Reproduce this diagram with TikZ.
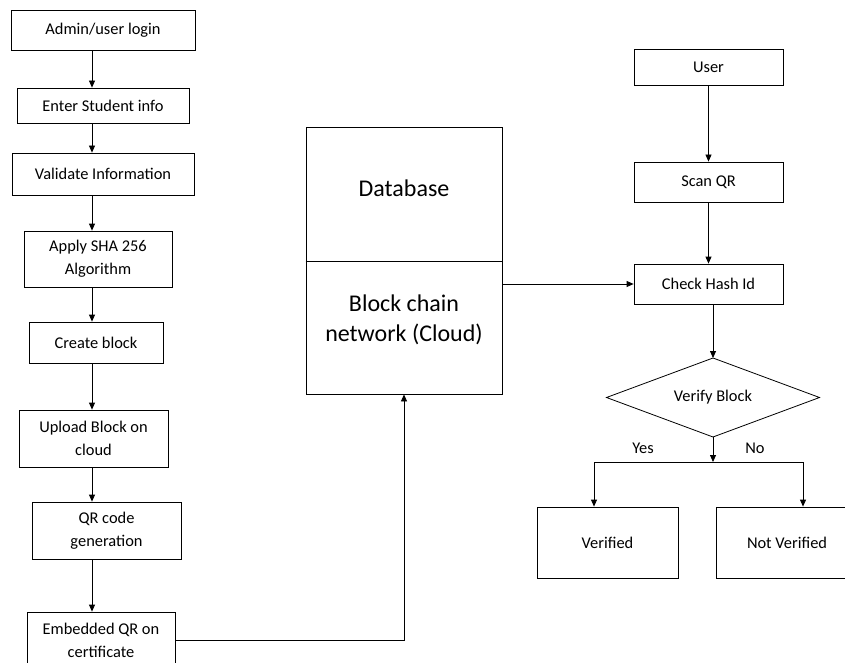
\documentclass[tikz,border=0pt]{standalone}
\usepackage{fontspec}
\setmainfont{Carlito}
\usetikzlibrary{shapes.geometric,arrows.meta}

\tikzset{
  box/.style={draw, align=center, inner sep=2pt},
  bigtext/.style={align=center, font=\fontsize{24}{30}\selectfont},
}

\begin{document}
\begin{tikzpicture}[x=1pt, y=-1pt, line width=0.8pt,
  >={Triangle[length=7pt,width=6pt]},
  font=\fontsize{16.4}{23}\selectfont]

\useasboundingbox (0,0) rectangle (845,663);

% registration side
\node[box, minimum width=184pt, minimum height=40pt] (login) at (103,30) {Admin/user login};
\node[box, minimum width=172pt, minimum height=35pt] (entry) at (103,105.5) {Enter Student info};
\node[box, minimum width=182pt, minimum height=42pt] (validate) at (103,174) {Validate Information};
\node[box, minimum width=148pt, minimum height=56pt] (sha) at (98,259) {Apply SHA 256\\Algorithm};
\node[box, minimum width=134pt, minimum height=41pt] (create) at (96,342.5) {Create block};
\node[box, minimum width=149pt, minimum height=57pt] (upload) at (93.5,438.5) {Upload Block on\\cloud};
\node[box, minimum width=149pt, minimum height=57pt] (qrgen) at (106.5,530.5) {QR code\\generation};
\node[box, minimum width=148pt, minimum height=56pt] (embed) at (101,640) {Embedded QR on\\certificate};

\coordinate (spine) at (92,0);
\foreach \a/\b in {login/entry, entry/validate, validate/sha, sha/create,
                   create/upload, upload/qrgen, qrgen/embed}{
  \draw[->] (\a.south -| spine) -- (\b.north -| spine);
}

% storage
\node[box, minimum width=196pt, minimum height=134pt] (db) at (404,194) {};
\node[box, minimum width=196pt, minimum height=133pt] (chain) at (404,327.5) {};
\draw[line width=1.6pt] (db.south west) -- (db.south east);
\node[bigtext] (dbtext) at (404,188) {Database};
\node[bigtext] (chaintext) at (404,320) {Block chain\\network (Cloud)};

\draw[->] (embed.east) -| (chain.south);

% verification side
\node[box, minimum width=149pt, minimum height=36pt] (user) at (708.5,67) {User};
\node[box, minimum width=149pt, minimum height=40pt] (scan) at (708.5,182) {Scan QR};
\node[box, minimum width=149pt, minimum height=40pt] (check) at (708.5,284) {Check Hash Id};
\node[draw, diamond, aspect=2.7, inner sep=0pt, outer sep=0pt,
      minimum width=213pt, minimum height=79pt] (verify) at (713,397.5) {Verify Block};
\node[box, minimum width=141pt, minimum height=71pt] (ok) at (607.5,542.5) {Verified};
\node[box, minimum width=142pt, minimum height=71pt] (notok) at (787,542.5) {Not Verified};

\draw[->] (user) -- (scan);
\draw[->] (scan) -- (check);
\draw[->] (check.west -| chain.east) -- (check.west);
\draw[->] (check.south -| verify.north) -- (verify.north);

\coordinate (split) at (713,462);
\coordinate (yescol) at (594,462);
\coordinate (nocol) at (803,462);
\draw[->] (verify.south) -- (split);
\draw (yescol) -- (nocol);
\draw[->] (yescol) -- (ok.north -| yescol);
\draw[->] (nocol) -- (notok.north -| nocol);

\node (yeslbl) at (643,448) {Yes};
\node (nolbl) at (755,448) {No};

\end{tikzpicture}
\end{document}
